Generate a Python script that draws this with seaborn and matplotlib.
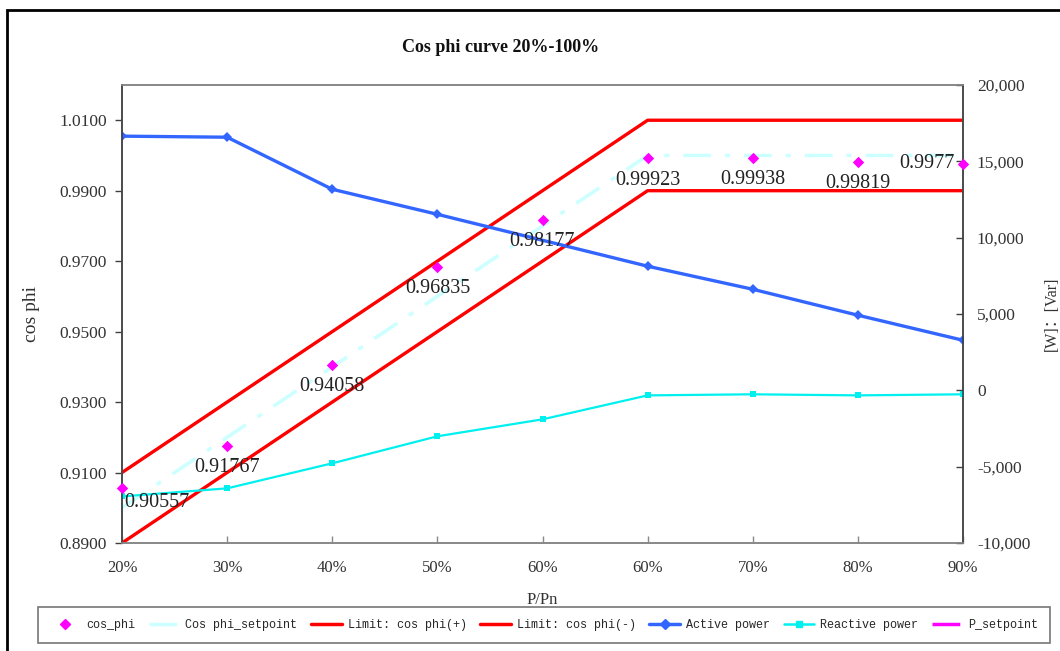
import numpy as np
import pandas as pd
import matplotlib
matplotlib.use("Agg")
import matplotlib.pyplot as plt
import seaborn as sns
from matplotlib.lines import Line2D
from matplotlib.patches import Rectangle
from matplotlib.ticker import FuncFormatter, MultipleLocator

# values
categories = ["20%", "30%", "40%", "50%", "60%", "60%", "70%", "80%", "90%"]
cos_phi = [0.90557, 0.91767, 0.94058, 0.96835, 0.98177, 0.99923, 0.99938, 0.99819, 0.9977]
cos_phi_setpoint = [0.90, 0.92, 0.94, 0.96, 0.98, 1.00, 1.00, 1.00, 1.00]
limit_plus = [0.91, 0.93, 0.95, 0.97, 0.99, 1.01, 1.01, 1.01, 1.01]
limit_minus = [0.89, 0.91, 0.93, 0.95, 0.97, 0.99, 0.99, 0.99, 0.99]
active_power = [16650, 16580, 13170, 11530, np.nan, 8130, 6620, 4920, 3280]
reactive_power = [-6950, -6420, -4780, -3010, -1900, -330, -260, -330, -260]

sns.set_theme(style="white")
plt.rcParams["font.family"] = ["Liberation Serif", "Noto Sans CJK SC", "DejaVu Sans"]

df = pd.DataFrame({
    "x": np.arange(len(categories)),
    "cos_phi": cos_phi,
    "setpoint": cos_phi_setpoint,
    "lim_plus": limit_plus,
    "lim_minus": limit_minus,
    "active": active_power,
    "reactive": reactive_power,
})

fig = plt.figure(figsize=(10.6, 6.51), dpi=100)
ax = fig.add_axes([122 / 1060, 1 - 543 / 651, (963 - 122) / 1060, (543 - 85) / 651])
ax2 = ax.twinx()

dashdot = (0, (8, 4, 1.5, 4))

# left axis: cos phi
sns.lineplot(data=df, x="x", y="setpoint", ax=ax, color="#ccffff", lw=2.5,
             linestyle=dashdot, sort=False)
sns.lineplot(data=df, x="x", y="lim_plus", ax=ax, color="#ff0000", lw=2.4, sort=False)
sns.lineplot(data=df, x="x", y="lim_minus", ax=ax, color="#ff0000", lw=2.4, sort=False)

# right axis: powers
act = df.dropna(subset=["active"])
sns.lineplot(data=act, x="x", y="active", ax=ax2, color="#3366ff", lw=2.4, marker="D",
             markersize=5, markeredgewidth=0, sort=False)
sns.lineplot(data=df, x="x", y="reactive", ax=ax2, color="#00f0f0", lw=1.6, marker="s",
             markersize=5, markeredgewidth=0, sort=False)

# cos_phi points on top of everything
ax3 = ax.twinx()
ax3.set_ylim(0.89, 1.02)
ax3.axis("off")
sns.scatterplot(data=df, x="x", y="cos_phi", ax=ax3, color="#ff00ff", marker="D",
                s=34, linewidth=0, zorder=5, clip_on=False)
n = len(categories)
for i, v in enumerate(cos_phi):
    if i == 0:
        off, ha = (2, -14), "left"
    elif i == n - 1:
        off, ha = (-8, 0), "right"
    else:
        off, ha = (0, -22), "center"
    ax3.annotate(f"{v:g}", (i, v), xytext=off, textcoords="offset pixels",
                 ha=ha, va="center", fontsize=14.5, color="#222222")

ax.set_xlim(0, n - 1)
ax.set_ylim(0.89, 1.02)
ax.set_yticks(np.arange(0.89, 1.0101, 0.02))
ax.yaxis.set_major_formatter(FuncFormatter(lambda v, p: f"{v:.4f}"))
ax.set_xticks(np.arange(n))
ax.set_xticklabels(categories)
ax2.set_ylim(-10000, 20000)
ax2.yaxis.set_major_locator(MultipleLocator(5000))
ax2.yaxis.set_major_formatter(FuncFormatter(lambda v, p: f"{v:,.0f}"))

ax.set_xlabel("P/Pn", fontsize=12, color="#333333", labelpad=12)
ax.set_ylabel("cos phi", fontsize=14, color="#333333", labelpad=14)
ax2.set_ylabel("[W]：[Var]", fontsize=11.5, color="#333333", labelpad=10)

for a in (ax, ax2):
    for s in a.spines.values():
        s.set_color("#888888")
        s.set_linewidth(1.2)
ax2.spines["left"].set_color("#404040")
ax2.spines["right"].set_color("#404040")
ax.tick_params(axis="y", direction="out", length=5, width=1, color="#404040",
               labelsize=12.5, labelcolor="#333333", left=True, pad=6)
ax.tick_params(axis="x", direction="in", length=5, width=1, color="#888888",
               labelsize=12, labelcolor="#333333", bottom=True, pad=12)
ax2.tick_params(axis="y", direction="in", length=5, width=1, color="#404040",
                labelsize=12.5, labelcolor="#333333", right=True, pad=10)

fig.text(501 / 1060, 1 - 48 / 651, "Cos phi curve 20%-100%", ha="center", va="center",
         fontsize=13, fontweight="bold", color="#111111")

handles = [
    Line2D([], [], color="#ff00ff", marker="D", linestyle="none", markersize=5),
    Line2D([], [], color="#ccffff", lw=2.5, linestyle=dashdot),
    Line2D([], [], color="#ff0000", lw=2.5),
    Line2D([], [], color="#ff0000", lw=2.5),
    Line2D([], [], color="#3366ff", lw=2.5, marker="D", markersize=5),
    Line2D([], [], color="#00f0f0", lw=1.8, marker="s", markersize=5),
    Line2D([], [], color="#ff00ff", lw=2.5, linestyle=dashdot),
]
labels = ["cos_phi", "Cos phi_setpoint", "Limit: cos phi(+)", "Limit: cos phi(-)",
          "Active power", "Reactive power", "P_setpoint"]
leg = fig.legend(handles, labels, ncol=7, loc="center",
                 bbox_to_anchor=((38 + 1050) / 2 / 1060, 1 - 625 / 651),
                 prop={"family": "Liberation Mono", "size": 8.5},
                 frameon=True, fancybox=False, handlelength=2.6,
                 columnspacing=1.15, handletextpad=0.5, borderpad=1.0)
leg.get_frame().set_edgecolor("#555555")
leg.get_frame().set_linewidth(1.2)

fig.add_artist(Rectangle((7 / 1060, -0.1), 1.1, 1.1 - 10 / 651,
                         transform=fig.transFigure, fill=False, lw=2,
                         edgecolor="black", clip_on=False))

fig.savefig("out.png", dpi=100)
